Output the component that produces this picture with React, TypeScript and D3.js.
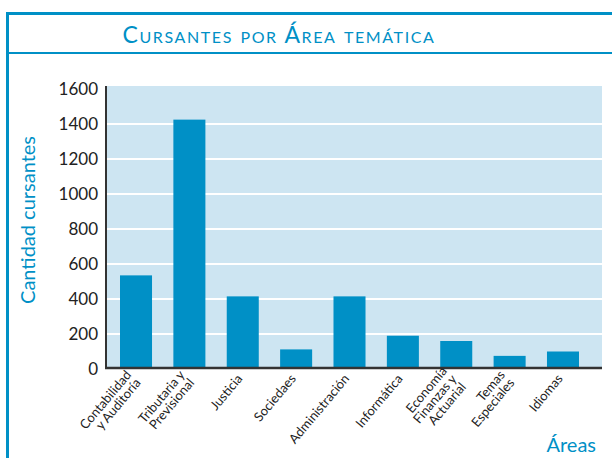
import React from 'react';
import * as d3 from 'd3';

const categories = [
  ['Contabilidad', 'y Auditoría'],
  ['Tributaria y', 'Previsional'],
  ['Justicia'],
  ['Sociedaes'],
  ['Administración'],
  ['Informática'],
  ['Economía', 'Finanzas y', 'Actuarial'],
  ['Temas', 'Especiales'],
  ['Idiomas'],
];
const cursantes = [535, 1425, 415, 112, 415, 190, 160, 75, 100];
const yTicks = [0, 200, 400, 600, 800, 1000, 1200, 1400, 1600];

const BLUE = '#0090c6';
const FONT = 'Lato, "Open Sans", sans-serif';

const App = () => {
  const W = 612;
  const H = 458;
  const plot = { left: 106, right: 602, top: 86, bottom: 368 };

  const ids = categories.map((_, i) => String(i));
  const x = d3.scaleBand<string>().domain(ids).range([120, 579]).paddingInner(0.4).paddingOuter(0);
  const y = d3.scaleLinear().domain([0, 1600]).range([369, 89]);

  return (
    <svg width={W} height={H} style={{ position: 'absolute', left: 0, top: 0 }} fontFamily={FONT}>
      {/* frame */}
      <line x1={7.5} y1={12} x2={7.5} y2={H} stroke={BLUE} strokeWidth={3} />
      <line x1={6} y1={13.5} x2={W} y2={13.5} stroke={BLUE} strokeWidth={3} />
      <line x1={7} y1={53} x2={W} y2={53} stroke={BLUE} strokeWidth={2} />
      <text x={279} y={43} textAnchor="middle" fill={BLUE} fontSize={23} letterSpacing={1.6}
        style={{ fontVariant: 'small-caps' }}>Cursantes por Área temática</text>

      {/* plot background */}
      <rect x={plot.left} y={plot.top} width={plot.right - plot.left} height={plot.bottom - plot.top} fill="#cde5f2" />
      {yTicks.filter(t => t > 0 && t < 1600).map(t => (
        <line key={t} x1={plot.left} x2={plot.right} y1={y(t)} y2={y(t)} stroke="#fff" strokeWidth={2} />
      ))}

      {cursantes.map((v, i) => (
        <rect key={i} x={x(ids[i])} y={y(v)} width={x.bandwidth()} height={plot.bottom - y(v)} fill={BLUE} />
      ))}

      {/* axes */}
      <line x1={plot.left} x2={plot.left} y1={plot.top} y2={plot.bottom + 1} stroke="#333" strokeWidth={2} />
      <line x1={plot.left - 1} x2={plot.right} y1={plot.bottom} y2={plot.bottom} stroke="#333" strokeWidth={2.5} />

      {yTicks.map(t => (
        <text key={t} x={98} y={y(t)} dy="0.35em" textAnchor="end" fontSize={17} fill="#222">{t}</text>
      ))}

      {categories.map((lines, i) => {
        const cx = (x(ids[i]) as number) + x.bandwidth() / 2 - 3;
        const n = lines.length;
        return (
          <text key={i} transform={`translate(${cx},${plot.bottom + 8}) rotate(-50)`} textAnchor="end"
            fontSize={13} fill="#222">
            {lines.map((l, j) => (
              <tspan key={j} x={0} dy={j === 0 ? `${0.35 - (n - 1) * 0.45}em` : '0.95em'}>{l}</tspan>
            ))}
          </text>
        );
      })}

      <text transform="translate(35,220) rotate(-90)" textAnchor="middle" fontSize={20} fill={BLUE}>Cantidad cursantes</text>
      <text x={596} y={452} textAnchor="end" fontSize={20} fill={BLUE}>Áreas</text>
    </svg>
  );
};

export default App;
